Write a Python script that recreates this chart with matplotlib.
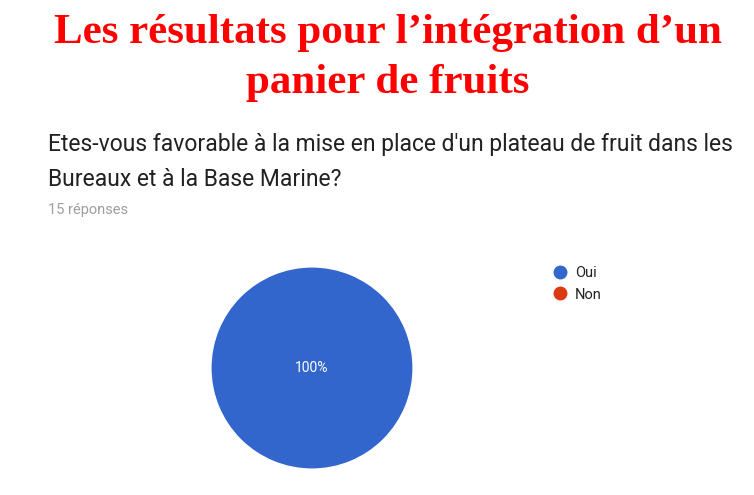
import matplotlib.pyplot as plt
from matplotlib.lines import Line2D

# Survey data
labels = ["Oui", "Non"]
counts = [15, 0]
colors = ["#3366CC", "#DC3912"]

title = "Les résultats pour l\u2019intégration d\u2019un\npanier de fruits"
question = ("Etes-vous favorable à la mise en place d'un plateau de fruit dans les\n"
            "Bureaux et à la Base Marine?")
n_answers = "15 réponses"

W, H = 754, 495
fig = plt.figure(figsize=(W / 100, H / 100), dpi=100)

fig.text(388 / W, 1 - 58 / H, title, ha="center", va="center", color="#FF0000",
         family="Liberation Serif", fontweight="bold", fontsize=31, linespacing=1.4)
fig.text(48 / W, 1 - 162 / H, question, ha="left", va="center", color="#212121",
         family="Roboto", fontsize=16.5, linespacing=1.7)
fig.text(48 / W, 1 - 210 / H, n_answers, ha="left", va="center", color="#9E9E9E",
         family="Roboto", fontsize=10.5)

# pie, centre (312, 368) px, radius 102 px
cx, cy, r = 312, 368, 102
ax = fig.add_axes([(cx - r) / W, (H - cy - r) / H, 2 * r / W, 2 * r / H])
shown = [(c, col) for c, col in zip(counts, colors) if c > 0]
wedges, texts, autotexts = ax.pie([c for c, _ in shown], colors=[col for _, col in shown],
                                  startangle=90, counterclock=False,
                                  autopct=lambda p: f"{p:.0f}%",
                                  wedgeprops=dict(linewidth=0.8, edgecolor="white"),
                                  textprops=dict(color="white", family="Roboto", fontsize=10))
for t in autotexts:
    t.set_position((0, 0))
ax.set_xlim(-1.01, 1.01)
ax.set_ylim(-1.01, 1.01)

handles = [Line2D([], [], marker="o", linestyle="", markersize=9, color=c) for c in colors]
leg = fig.legend(handles, labels, loc="upper left", bbox_to_anchor=(538 / W, 1 - 259 / H),
                 frameon=False, prop=dict(family="Roboto", size=10.5), handletextpad=0.05,
                 labelspacing=0.5, borderpad=0)
for t in leg.get_texts():
    t.set_color("#212121")

fig.savefig("out.png", dpi=100, facecolor="white")
